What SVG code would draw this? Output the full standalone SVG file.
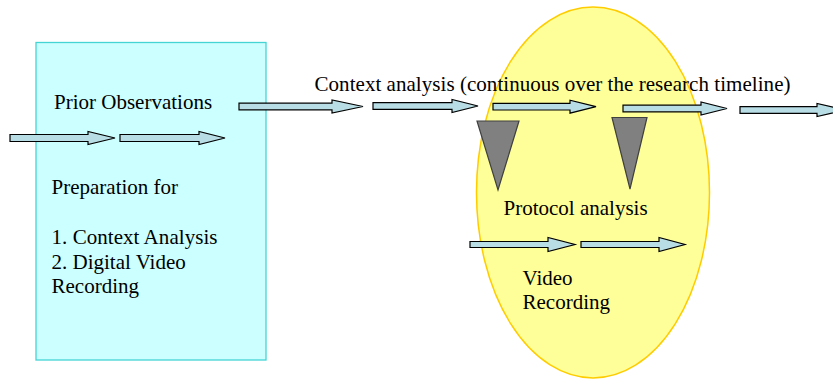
<svg xmlns="http://www.w3.org/2000/svg" width="833" height="379" viewBox="0 0 833 379">
<style>
text{font-family:"Liberation Serif","Times New Roman",serif;font-size:21px;fill:#000}
.arr{fill:#b8dde4;stroke:#000;stroke-width:1.2;stroke-linejoin:miter}
.tri{fill:#808080;stroke:#404040;stroke-width:1.2}
</style>
<rect width="833" height="379" fill="#fff"/>
<g id="prep">
<rect x="36" y="42.5" width="230" height="317.5" fill="#ccffff" stroke="#44d4d4" stroke-width="1.3"/>
</g>
<g id="video-protocol">
<ellipse cx="593" cy="192.5" rx="116.5" ry="185.5" fill="#ffff99" stroke="#ffcc00" stroke-width="1.5"/>
</g>
<g id="connectors">
<path class="arr" d="M10,134.5 H88 V131.5 L115,138 L88,144.5 V141.5 H10 Z"/>
<path class="arr" d="M120,134.5 H199 V131.5 L225,138 L199,144.5 V141.5 H120 Z"/>
<path class="arr" d="M239,103.2 H332 V100 L363,106.5 L332,113 V109.8 H239 Z"/>
<path class="arr" d="M373,102.7 H452 V99.5 L478,106 L452,112.5 V109.3 H373 Z"/>
<path class="arr" d="M493,103.4 H570 V100.2 L596,106.7 L570,113.2 V110 H493 Z"/>
<path class="arr" d="M623,105.2 H701 V102 L727,108.5 L701,115 V111.8 H623 Z"/>
<path class="arr" d="M740,106.7 H817 V103.5 L846,110 L817,116.5 V113.3 H740 Z"/>
<path class="arr" d="M470,241.5 H548 V237.5 L575,244.5 L548,251.5 V247.5 H470 Z"/>
<path class="arr" d="M581,241.5 H659 V237.5 L685,244.5 L659,251.5 V247.5 H581 Z"/>
</g>
<g id="tri-1"><polygon class="tri" points="477,121 519,121 498,190"/></g>
<g id="tri-2"><polygon class="tri" points="612,117.5 647,117.5 630,189"/></g>
<g id="prior-observations"><text x="54" y="109">Prior Observations</text></g>
<g id="preparation">
<text x="51.5" y="193.5">Preparation for</text>
<text x="51.5" y="244" textLength="166">1. Context Analysis</text>
<text x="51.5" y="268.5">2. Digital Video</text>
<text x="51.5" y="292.5">Recording</text>
</g>
<g id="context-analysis"><text x="314.5" y="90.5" textLength="476">Context analysis (continuous over the research timeline)</text></g>
<g id="protocol-analysis"><text x="503.5" y="215">Protocol analysis</text></g>
<g id="video-recording">
<text x="522.5" y="285">Video</text>
<text x="522.5" y="309">Recording</text>
</g>
</svg>
